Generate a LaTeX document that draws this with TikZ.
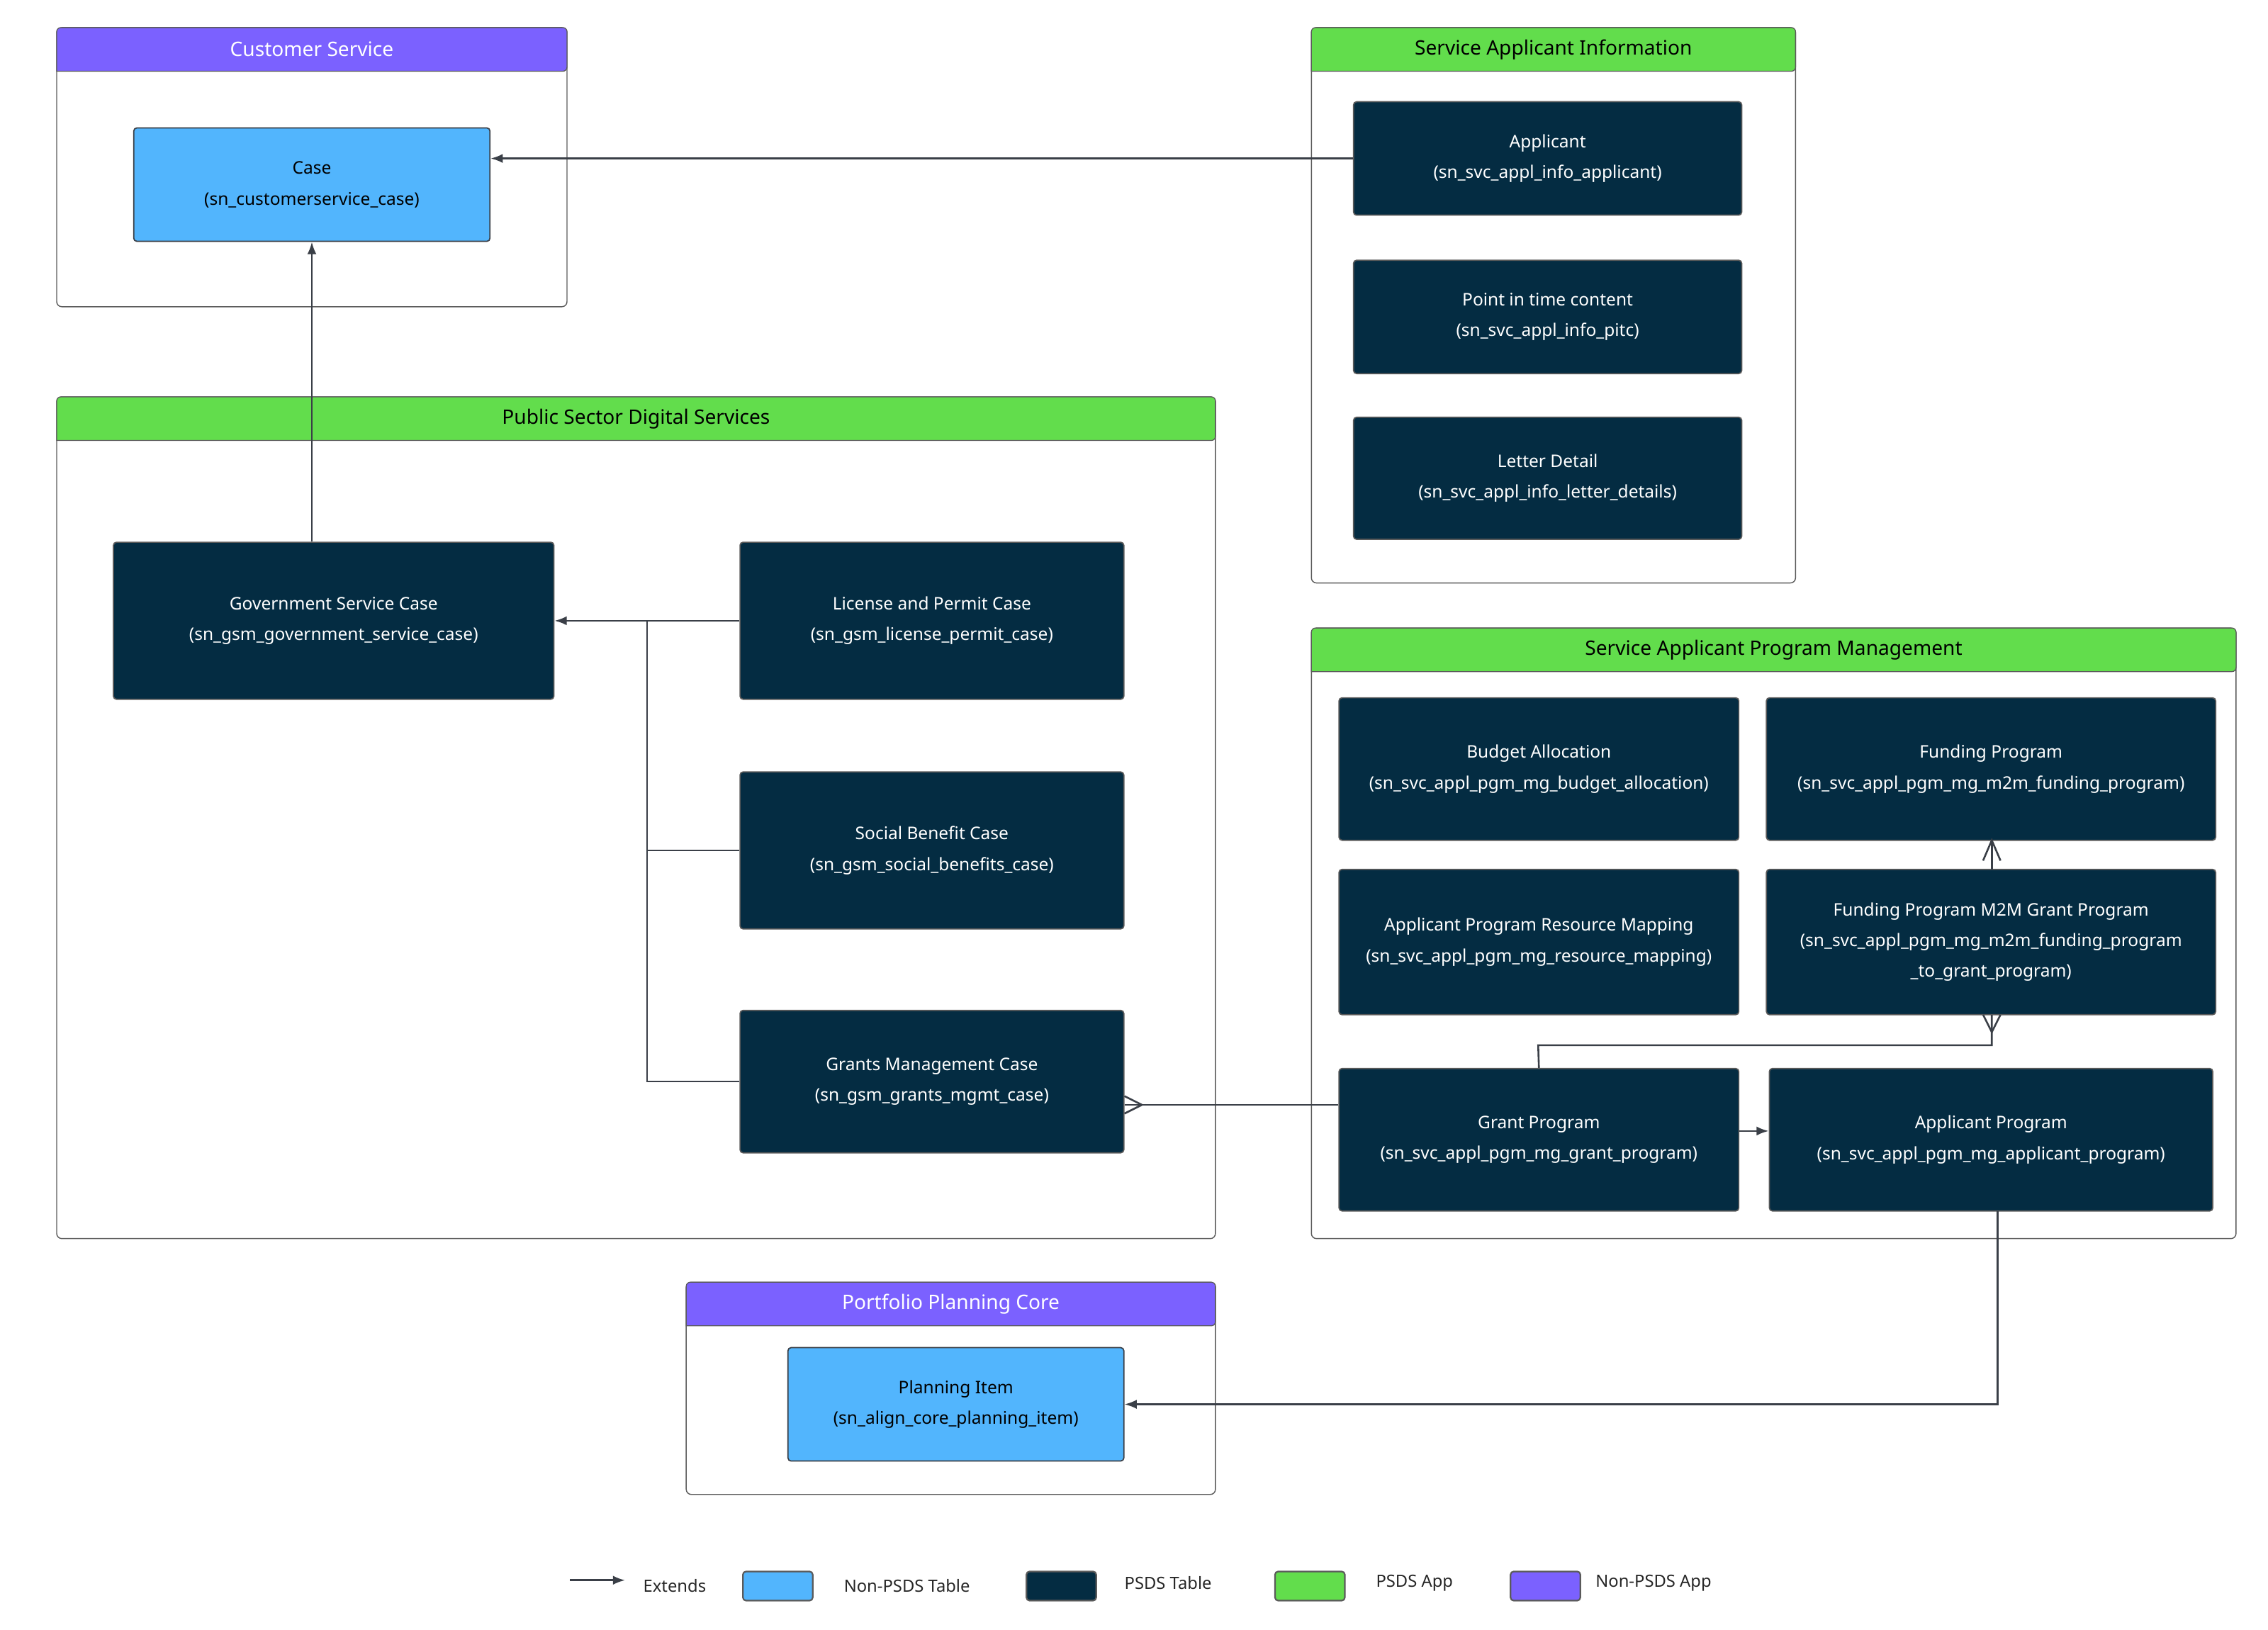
\documentclass[tikz,border=0pt]{standalone}
\usepackage{fontspec}
\setmainfont{Noto Sans}
\usetikzlibrary{arrows.meta}
\definecolor{dark}{HTML}{042C42}
\definecolor{lblue}{HTML}{52B5FD}
\definecolor{green}{HTML}{62DD4C}
\definecolor{purple}{HTML}{7B61FF}
\definecolor{edge}{HTML}{3A3F47}
\definecolor{frame}{HTML}{5A5A5A}
\newcommand\mybox[7]{\node[#6, minimum width={(#4-#2)*0.05cm}, minimum height={(#5-#3)*0.05cm}] (#1) at ({(#2+#4)/2},{(#3+#5)/2}) {#7};}
\newcommand\mygroup[7]{%
 \node[grp, minimum width={(#4-#2)*0.05cm}, minimum height={(#5-#3)*0.05cm}] (#1) at ({(#2+#4)/2},{(#3+#5)/2}) {};
 \path[fill=#6, draw=frame, line width=0.9pt, rounded corners=4] (#2,#3+30) -- (#2,#3) -- (#4,#3) -- (#4,#3+30) [sharp corners] -- cycle;
 \node[hdr] (#1-h) at ({(#2+#4)/2},#3+15) {#7};}
\newcommand\crow[3]{% point on edge, direction dx dy (unit, into diagram away from box)
 \draw[conn] (#1) ++({#2*12},{#3*12}) -- ++({-#2*12+#3*6},{-#3*12+#2*6});
 \draw[conn] (#1) ++({#2*12},{#3*12}) -- ++({-#2*12-#3*6},{-#3*12-#2*6});}
\tikzset{
 x=0.05cm, y=-0.05cm,
 tbl/.style={draw=frame, line width=1.2pt, rounded corners=3, fill=dark, text=white, align=center, font=\fontsize{17}{30}\selectfont},
 ext/.style={draw=edge, line width=1.2pt, rounded corners=3, fill=lblue, text=black, align=center, font=\fontsize{17}{30}\selectfont},
 grp/.style={draw=frame, line width=1pt, rounded corners=5},
 hdr/.style={font=\fontsize{19.5}{22}\selectfont, text=black},
 conn/.style={draw=edge, line width=1.8pt},
 arr/.style={conn, -{Latex[length=12pt,width=9pt]}},
 lg/.style={font=\fontsize{16.5}{20}\selectfont, text=black!85, anchor=west},
 lbox/.style={draw=frame, line width=1.5pt, rounded corners=3, minimum width={48*0.05cm}, minimum height={20*0.05cm}},
}
\begin{document}
\begin{tikzpicture}
\useasboundingbox (0,0) rectangle (1560,1121);
% groups
\mygroup{cs}{39}{19}{390}{211}{purple}{\color{white}Customer Service}
\mygroup{sai}{902}{19}{1235}{401}{green}{Service Applicant Information}
\mygroup{psds}{39}{273}{836}{852}{green}{Public Sector Digital Services}
\mygroup{sapm}{902}{432}{1538}{852}{green}{Service Applicant Program Management}
\mygroup{ppc}{472}{882}{836}{1028}{purple}{\color{white}Portfolio Planning Core}
% tables
\mybox{case}{92}{88}{337}{166}{ext}{Case\\(sn\_customerservice\_case)}
\mybox{appl}{931}{70}{1198}{148}{tbl}{Applicant\\(sn\_svc\_appl\_info\_applicant)}
\mybox{pitc}{931}{179}{1198}{257}{tbl}{Point in time content\\(sn\_svc\_appl\_info\_pitc)}
\mybox{letter}{931}{287}{1198}{371}{tbl}{Letter Detail\\(sn\_svc\_appl\_info\_letter\_details)}
\mybox{gov}{78}{373}{381}{481}{tbl}{Government Service Case\\(sn\_gsm\_government\_service\_case)}
\mybox{lic}{509}{373}{773}{481}{tbl}{License and Permit Case\\(sn\_gsm\_license\_permit\_case)}
\mybox{soc}{509}{531}{773}{639}{tbl}{Social Benefit Case\\(sn\_gsm\_social\_benefits\_case)}
\mybox{grants}{509}{695}{773}{793}{tbl}{Grants Management Case\\(sn\_gsm\_grants\_mgmt\_case)}
\mybox{budget}{921}{480}{1196}{578}{tbl}{Budget Allocation\\(sn\_svc\_appl\_pgm\_mg\_budget\_allocation)}
\mybox{fund}{1215}{480}{1524}{578}{tbl}{Funding Program\\(sn\_svc\_appl\_pgm\_mg\_m2m\_funding\_program)}
\mybox{aprm}{921}{598}{1196}{698}{tbl}{Applicant Program Resource Mapping\\(sn\_svc\_appl\_pgm\_mg\_resource\_mapping)}
\mybox{m2m}{1215}{598}{1524}{698}{tbl}{Funding Program M2M Grant Program\\(sn\_svc\_appl\_pgm\_mg\_m2m\_funding\_program\\\_to\_grant\_program)}
\mybox{gp}{921}{735}{1196}{833}{tbl}{Grant Program\\(sn\_svc\_appl\_pgm\_mg\_grant\_program)}
\mybox{ap}{1217}{735}{1522}{833}{tbl}{Applicant Program\\(sn\_svc\_appl\_pgm\_mg\_applicant\_program)}
\mybox{plan}{542}{927}{773}{1005}{ext}{Planning Item\\(sn\_align\_core\_planning\_item)}
% connectors
\draw[arr] (appl.west) -- (case.east |- appl.west);
\draw[arr] (gov.north -| case.south) -- (case.south);
\draw[arr] (lic.west) -- (gov.east |- lic.west);
\coordinate (j1) at (445,427);
\draw[conn] (soc.west) -| (j1);
\draw[conn] (grants.west) -| (j1);
\coordinate (gpw) at (gp.west |- 0,760);
\coordinate (gre) at (grants.east |- 0,760);
\draw[conn] (gpw) -- (gre);
\crow{gre}{1}{0}
\coordinate (fb) at (1370,578);
\coordinate (mt) at (1370,598);
\draw[conn] (fb) -- (mt);
\draw[conn] (1364,592) -- (fb) -- (1376,592);
\coordinate (mb) at (1370,698);
\draw[conn] (gp.north) -- (1058,719) -- (1370,719) -- (mb);
\crow{mb}{0}{1}
\draw[arr] (gp.east |- 0,778) -- (ap.west |- 0,778);
\coordinate (apb) at (1374,833);
\draw[arr] (apb) -- (1374,966) -- (plan.east |- 0,966);
% legend
\coordinate (la) at (392,1087);
\coordinate (lb) at (430,1087);
\draw[arr] (la) -- (lb);
\node[lg] (l1) at (440,1091) {Extends};
\node[lbox, fill=lblue] (b1) at (535,1091) {};
\node[lg] (l2) at (578,1091) {Non-PSDS Table};
\node[lbox, fill=dark] (b2) at (730,1091) {};
\node[lg] (l3) at (771,1089) {PSDS Table};
\node[lbox, fill=green] (b3) at (901,1091) {};
\node[lg] (l4) at (944,1089) {PSDS App};
\node[lbox, fill=purple] (b4) at (1063,1091) {};
\node[lg] (l5) at (1095,1089) {Non-PSDS App};
\end{tikzpicture}
\end{document}
